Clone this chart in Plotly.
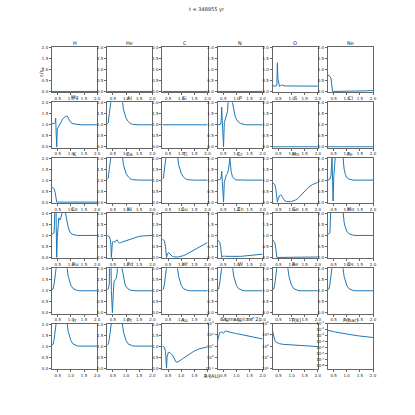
import plotly.graph_objects as go
from plotly.subplots import make_subplots

R = [0.28, 0.32, 0.36, 0.40, 0.42, 0.44, 0.46, 0.48, 0.51, 0.54, 0.58, 0.62, 0.66, 0.70,
     0.75, 0.80, 0.85, 0.90, 0.95, 1.00, 1.08, 1.16, 1.25, 1.35, 1.50, 1.65, 1.80, 1.90, 2.00]

zero = [0.0] * 29
O_ = [0.25, 0.25, 0.25, 0.25, 0.25, 0.3, 1.3, 0.6, 0.25, 0.22, 0.25, 0.3, 0.28, 0.26,
      0.25, 0.25, 0.25, 0.24, 0.24, 0.24, 0.24, 0.24, 0.24, 0.24, 0.24, 0.24, 0.24, 0.24, 0.24]
Ne = [0.75, 0.72, 0.68, 0.6, 0.3, 0.05, 0.0, 0.0, 0.0, 0.0, 0.0, 0.0, 0.0, 0.0,
      0.0, 0.0, 0.0, 0.0, 0.0, 0.0, 0.0, 0.0, 0.0, 0.0, 0.01, 0.02, 0.03, 0.04, 0.04]
Mg = [1.05, 1.05, 1.05, 1.1, 1.3, 0.6, 0.0, 0.8, 0.88, 0.92, 1.0, 1.1, 1.2, 1.28,
      1.35, 1.38, 1.4, 1.3, 1.2, 1.1, 1.05, 1.03, 1.01, 1.0, 1.0, 1.0, 1.0, 1.0, 1.0]
Al = [1.05, 1.08, 1.5, 3.0, 5.0, 5.0, 5.0, 5.0, 5.0, 5.0, 5.0, 5.0, 5.0, 5.0,
      5.0, 4.0, 2.2, 1.7, 1.45, 1.3, 1.15, 1.06, 1.02, 1.0, 1.0, 1.0, 1.0, 1.0, 1.0]
Si = [1.0] * 29
P_ = [1.0, 1.0, 1.0, 1.02, 1.2, 1.8, 1.2, 0.4, 0.0, 1.1, 1.3, 1.4, 1.6, 2.4,
      5.0, 3.0, 2.0, 1.6, 1.4, 1.25, 1.12, 1.06, 1.03, 1.0, 1.0, 1.0, 1.0, 1.0, 1.0]
K_ = [0.7, 0.65, 0.6, 0.45, 0.2, 0.02, 0.0, 0.0, 0.0, 0.0, 0.0, 0.0, 0.0, 0.0,
      0.0, 0.0, 0.0, 0.0, 0.0, 0.0, 0.0, 0.0, 0.0, 0.0, 0.0, 0.0, 0.0, 0.0, 0.0]
Cr = [1.0, 1.0, 1.02, 1.05, 1.15, 1.4, 0.8, 0.3, 0.0, 0.9, 1.15, 1.25, 1.3, 1.5,
      2.0, 1.4, 1.15, 1.06, 1.02, 1.01, 1.0, 1.0, 1.0, 1.0, 1.0, 1.0, 1.0, 1.0, 1.0]
Mn = [0.88, 0.85, 0.8, 0.6, 0.3, 0.05, 0.0, 0.1, 0.25, 0.3, 0.32, 0.3, 0.2, 0.1,
      0.05, 0.03, 0.02, 0.02, 0.02, 0.03, 0.06, 0.1, 0.18, 0.3, 0.5, 0.68, 0.8, 0.86, 0.9]
Fe = [1.0, 1.02, 1.05, 1.2, 1.6, 2.0, 1.0, 0.05, 1.2, 5.0, 5.0, 5.0, 5.0, 5.0,
      5.0, 2.8, 2.0, 1.5, 1.25, 1.12, 1.05, 1.02, 1.0, 1.0, 1.0, 1.0, 1.0, 1.0, 1.0]
Co = [1.05, 1.08, 1.12, 2.5, 5.0, 1.5, 0.0, 0.9, 1.6, 1.8, 1.7, 1.8, 2.0, 3.0,
      2.3, 2.0, 1.6, 1.35, 1.2, 1.1, 1.04, 1.01, 1.0, 1.0, 1.0, 1.0, 1.0, 1.0, 1.0]
Ni = [1.0, 0.98, 0.95, 0.8, 0.6, 0.0, 0.3, 0.7, 0.72, 0.7, 0.72, 0.78, 0.8, 0.72,
      0.65, 0.68, 0.7, 0.72, 0.74, 0.76, 0.8, 0.84, 0.88, 0.92, 0.96, 0.98, 0.99, 1.0, 1.0]
Cu = [0.85, 0.8, 0.75, 0.5, 0.2, 0.0, 0.1, 0.2, 0.22, 0.2, 0.15, 0.08, 0.05, 0.03,
      0.02, 0.02, 0.02, 0.03, 0.04, 0.05, 0.08, 0.12, 0.18, 0.25, 0.36, 0.46, 0.56, 0.62, 0.68]
Zn = [0.8, 0.75, 0.7, 0.5, 0.2, 0.0, 0.03, 0.06, 0.07, 0.06, 0.05, 0.05, 0.04, 0.03,
      0.02, 0.02, 0.02, 0.02, 0.03, 0.03, 0.04, 0.05, 0.06, 0.07, 0.09, 0.11, 0.13, 0.14, 0.15]
Ge = [0.8, 0.75, 0.68, 0.4, 0.1, 0.0, 0.0, 0.0, 0.0, 0.0, 0.0, 0.0, 0.0, 0.0,
      0.0, 0.0, 0.0, 0.0, 0.0, 0.0, 0.0, 0.0, 0.0, 0.0, 0.0, 0.01, 0.01, 0.02, 0.02]
Mo = [1.05, 1.08, 1.12, 2.5, 5.0, 5.0, 5.0, 5.0, 5.0, 5.0, 5.0, 5.0, 5.0, 5.0,
      5.0, 5.0, 2.2, 1.6, 1.35, 1.2, 1.08, 1.03, 1.01, 1.0, 1.0, 1.0, 1.0, 1.0, 1.0]
Ru = [1.05, 1.08, 1.3, 3.0, 5.0, 5.0, 5.0, 5.0, 5.0, 5.0, 5.0, 5.0, 5.0, 5.0,
      5.0, 4.0, 2.1, 1.65, 1.4, 1.25, 1.1, 1.04, 1.01, 1.0, 1.0, 1.0, 1.0, 1.0, 1.0]
Pd = [1.05, 1.08, 1.3, 5.0, 3.0, 1.0, 0.2, 0.0, 0.8, 1.4, 1.5, 1.55, 1.8, 5.0,
      5.0, 3.0, 2.0, 1.6, 1.35, 1.2, 1.08, 1.03, 1.01, 1.0, 1.0, 1.0, 1.0, 1.0, 1.0]
Hf = Ru
W_ = Ru
Re = Ru
Os = Ru
Ir = Ru
Pt = Ru
Au = [1.0, 0.98, 0.95, 0.75, 0.4, 0.0, 0.5, 0.7, 0.72, 0.72, 0.7, 0.65, 0.6, 0.52,
      0.4, 0.28, 0.27, 0.3, 0.34, 0.38, 0.45, 0.52, 0.6, 0.68, 0.78, 0.86, 0.92, 0.95, 0.97]
Sigma = [30, 110, 160, 180, 190, 185, 170, 150, 140, 170, 230, 215, 200, 190,
         175, 165, 155, 148, 140, 133, 122, 112, 102, 92, 78, 66, 56, 50, 45]
Temp = [2000, 700, 350, 250, 230, 210, 200, 190, 180, 170, 160, 155, 150, 148,
        146, 144, 142, 140, 138, 136, 132, 128, 124, 120, 114, 108, 102, 98, 95]
Pres = [8e-3, 7e-3, 6e-3, 5.5e-3, 5.8e-3, 6e-3, 5.6e-3, 5.2e-3, 4.8e-3, 4.4e-3, 4e-3, 3.7e-3, 3.4e-3, 3.1e-3,
        2.8e-3, 2.5e-3, 2.3e-3, 2.1e-3, 1.9e-3, 1.75e-3, 1.55e-3, 1.4e-3, 1.25e-3, 1.1e-3, 9e-4, 7.5e-4, 6.3e-4, 5.7e-4, 5.2e-4]

titles = ["H", "He", "C", "N", "O", "Ne",
          "Mg", "Al", "Si", "P", "S", "Cl",
          "K", "Ca", "Ti", "Cr", "Mn", "Fe",
          "Co", "Ni", "Cu", "Zn", "Ge", "Mo",
          "Ru", "Pd", "Hf", "W", "Re", "Os",
          "Ir", "Pt", "Au", "Sigma(g/cm^2)", "T(K)", "P(bar)"]
series = [zero, zero, zero, zero, O_, Ne,
          Mg, Al, Si, P_, zero, zero,
          K_, Al, Al, Cr, Mn, Fe,
          Co, Ni, Cu, Zn, Ge, Mo,
          Ru, Pd, Hf, W_, Re, Os,
          Ir, Pt, Au, Sigma, Temp, Pres]
x_ticks = [0.5, 1.0, 1.5, 2.0]
x_ticktext = ["0.5", "1.0", "1.5", "2.0"]
y_ticks = [0.0, 0.5, 1.0, 1.5, 2.0]
y_ticktext = ["0.0", "0.5", "1.0", "1.5", "2.0"]

L, Rm, T, B = 52, 42, 47, 46
W = H = 415
pw, ph = W - L - Rm, H - T - B
FONT = "DejaVu Sans"

fig = make_subplots(rows=6, cols=6, subplot_titles=titles,
                    horizontal_spacing=10 / pw, vertical_spacing=10 / ph)

for i, (t, y) in enumerate(zip(titles, series)):
    r, c = i // 6 + 1, i % 6 + 1
    fig.add_trace(go.Scatter(x=R, y=y, mode="lines",
                             line=dict(color="#1f77b4", width=1), showlegend=False),
                  row=r, col=c)
    fig.update_xaxes(range=[0.28, 2.0], tickvals=x_ticks, ticktext=x_ticktext,
                     row=r, col=c)
    if i < 33:
        fig.update_yaxes(range=[-0.04, 2.02], tickvals=y_ticks, ticktext=y_ticktext,
                         row=r, col=c)

# log panels
fig.update_yaxes(type="log", range=[-1, 3], tickvals=[0.1, 1, 10, 100, 1000],
                 ticktext=["10<sup>-1</sup>", "10<sup>0</sup>", "10<sup>1</sup>", "10<sup>2</sup>", "10<sup>3</sup>"],
                 row=6, col=4)
fig.update_yaxes(type="log", range=[0, 4], tickvals=[1, 10, 100, 1000, 10000],
                 ticktext=["10<sup>0</sup>", "10<sup>1</sup>", "10<sup>2</sup>", "10<sup>3</sup>", "10<sup>4</sup>"],
                 row=6, col=5)
p_vals = [10 ** (-k) for k in range(1, 9)]
fig.update_yaxes(type="log", range=[-8.5, -1], tickvals=p_vals,
                 ticktext=["10<sup>-%d</sup>" % k for k in range(1, 9)],
                 row=6, col=6)

axis_style = dict(showline=True, mirror=True, linecolor="#666", linewidth=1,
                  ticks="outside", ticklen=2, tickcolor="#666", tickwidth=0.5,
                  showgrid=False, zeroline=False, automargin=False,
                  tickfont=dict(size=4, color="#222", family=FONT))
fig.update_xaxes(**axis_style)
fig.update_yaxes(**axis_style)

for a in fig.layout.annotations:
    a.font = dict(size=5, color="#222", family=FONT)
    a.yshift = -1

fig.add_annotation(text="t = 348955 yr", x=(207 - L) / pw, y=1 + (T - 9) / ph,
                   xref="paper", yref="paper", showarrow=False,
                   xanchor="center", yanchor="middle",
                   font=dict(size=5, color="#222", family=FONT))
fig.add_annotation(text="R (AU)", x=(212 - L) / pw, y=-(376 - (H - B)) / ph,
                   xref="paper", yref="paper", showarrow=False,
                   xanchor="center", yanchor="middle",
                   font=dict(size=5, color="#222", family=FONT))
fig.add_annotation(text="ε/ε<sub>⊙</sub>", x=-(L - 41) / pw, y=1 - (72 - T) / ph,
                   xref="paper", yref="paper", showarrow=False, textangle=-90,
                   xanchor="center", yanchor="middle",
                   font=dict(size=5, color="#222", family=FONT))

fig.update_layout(
    width=W, height=H,
    margin=dict(l=L, r=Rm, t=T, b=B, autoexpand=False),
    plot_bgcolor="white", paper_bgcolor="white",
    font=dict(family=FONT),
)

fig.write_html("out.html", config={"displayModeBar": False},
               post_script="document.body.style.margin='0';document.body.style.padding='0';")
